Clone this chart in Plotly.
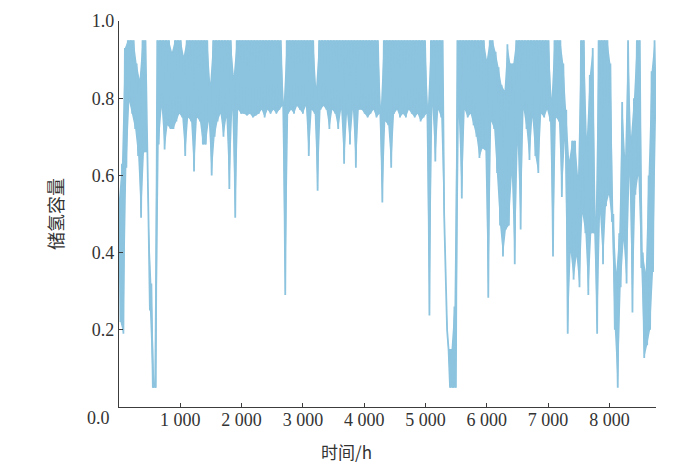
import plotly.graph_objects as go

# 储氢容量: one max / min pair per 48 h period
step_h = 48
soc_high = [
    0.54, 0.63, 0.93, 0.95, 0.95, 0.95, 0.89, 0.85, 0.95, 0.95,
    0.50, 0.32, 0.06, 0.95, 0.95, 0.95, 0.95, 0.95, 0.92, 0.95,
    0.95, 0.95, 0.91, 0.95, 0.95, 0.95, 0.95, 0.95, 0.95, 0.95,
    0.95, 0.84, 0.95, 0.95, 0.95, 0.95, 0.95, 0.95, 0.95, 0.86,
    0.95, 0.95, 0.95, 0.95, 0.95, 0.95, 0.95, 0.95, 0.95, 0.95,
    0.95, 0.95, 0.95, 0.95, 0.95, 0.95, 0.79, 0.95, 0.95, 0.95,
    0.95, 0.95, 0.95, 0.95, 0.95, 0.95, 0.95, 0.83, 0.95, 0.95,
    0.95, 0.95, 0.95, 0.95, 0.95, 0.95, 0.95, 0.95, 0.95, 0.95,
    0.95, 0.95, 0.95, 0.95, 0.95, 0.95, 0.95, 0.95, 0.95, 0.78,
    0.95, 0.95, 0.95, 0.95, 0.95, 0.95, 0.95, 0.95, 0.95, 0.95,
    0.95, 0.95, 0.95, 0.95, 0.95, 0.78, 0.95, 0.95, 0.95, 0.95,
    0.95, 0.32, 0.15, 0.15, 0.26, 0.95, 0.95, 0.95, 0.95, 0.95,
    0.95, 0.95, 0.95, 0.95, 0.95, 0.90, 0.95, 0.95, 0.92, 0.88,
    0.835, 0.82, 0.94, 0.89, 0.89, 0.95, 0.95, 0.95, 0.95, 0.95,
    0.95, 0.95, 0.95, 0.95, 0.95, 0.95, 0.95, 0.80, 0.95, 0.95,
    0.95, 0.89, 0.77, 0.64, 0.69, 0.69, 0.60, 0.95, 0.95, 0.70,
    0.86, 0.93, 0.49, 0.95, 0.95, 0.95, 0.95, 0.89, 0.50, 0.35,
    0.45, 0.79, 0.65, 0.95, 0.70, 0.80, 0.95, 0.95, 0.40, 0.35,
    0.60, 0.87, 0.95,
]
soc_low = [
    0.22, 0.19, 0.62, 0.79, 0.76, 0.72, 0.65, 0.49, 0.66, 0.66,
    0.25, 0.05, 0.05, 0.68, 0.775, 0.667, 0.73, 0.72, 0.72, 0.74,
    0.76, 0.75, 0.65, 0.75, 0.74, 0.61, 0.75, 0.74, 0.68, 0.68,
    0.74, 0.60, 0.70, 0.74, 0.76, 0.70, 0.75, 0.565, 0.77, 0.49,
    0.77, 0.76, 0.76, 0.755, 0.76, 0.75, 0.755, 0.76, 0.77, 0.75,
    0.77, 0.76, 0.77, 0.76, 0.77, 0.78, 0.29, 0.76, 0.77, 0.76,
    0.78, 0.77, 0.76, 0.78, 0.65, 0.77, 0.76, 0.56, 0.77, 0.78,
    0.77, 0.72, 0.77, 0.76, 0.72, 0.77, 0.63, 0.76, 0.68, 0.77,
    0.62, 0.77, 0.77, 0.76, 0.75, 0.76, 0.77, 0.75, 0.76, 0.53,
    0.74, 0.73, 0.62, 0.76, 0.77, 0.75, 0.76, 0.75, 0.77, 0.76,
    0.75, 0.76, 0.74, 0.75, 0.76, 0.237, 0.78, 0.636, 0.77, 0.75,
    0.50, 0.20, 0.05, 0.05, 0.05, 0.75, 0.54, 0.77, 0.75, 0.76,
    0.73, 0.70, 0.645, 0.67, 0.665, 0.283, 0.74, 0.72, 0.606, 0.47,
    0.39, 0.46, 0.47, 0.60, 0.37, 0.68, 0.46, 0.77, 0.72, 0.64,
    0.75, 0.65, 0.606, 0.76, 0.75, 0.77, 0.74, 0.39, 0.75, 0.74,
    0.544, 0.69, 0.19, 0.40, 0.33, 0.39, 0.31, 0.50, 0.45, 0.29,
    0.45, 0.45, 0.19, 0.50, 0.37, 0.52, 0.55, 0.48, 0.20, 0.05,
    0.31, 0.43, 0.32, 0.60, 0.245, 0.55, 0.60, 0.36, 0.127, 0.16,
    0.20, 0.35, 0.75,
]

x_ticks = [1000, 2000, 3000, 4000, 5000, 6000, 7000, 8000]
x_tick_text = ["1 000", "2 000", "3 000", "4 000", "5 000", "6 000", "7 000", "8 000"]
y_ticks = [0.2, 0.4, 0.6, 0.8, 1.0]
y_tick_text = ["0.2", "0.4", "0.6", "0.8", "1.0"]

# max at the start of each period, min half way through
t_high = [i * step_h for i in range(len(soc_high))]
t_low = [i * step_h + step_h // 2 for i in range(len(soc_low))]

hours = []
soc = []
for th, hi, tl, lo in zip(t_high, soc_high, t_low, soc_low):
    hours += [th, tl]
    soc += [hi, lo]

blue = "#8cc3de"
serif = "Liberation Serif"
axis_col = "#3c3c3c"

fig = go.Figure()
# solid band between the daily max and min
fig.add_trace(go.Scatter(x=t_high + t_low[::-1], y=soc_high + soc_low[::-1],
                         mode="lines", fill="toself", fillcolor=blue,
                         line=dict(width=0), hoverinfo="skip", showlegend=False))
fig.add_trace(go.Scatter(x=hours, y=soc, mode="lines",
                         line=dict(color=blue, width=1.8),
                         showlegend=False))

fig.update_xaxes(range=[0, 8760], showline=True, linecolor=axis_col, linewidth=1.3,
                 ticks="inside", ticklen=4, tickcolor=axis_col, tickwidth=1,
                 tickvals=x_ticks, ticktext=x_tick_text, ticklabelstandoff=-4,
                 tickfont=dict(family=serif, size=18, color="#333"),
                 showgrid=False, zeroline=False)
fig.update_yaxes(range=[0, 1.0], showline=True, linecolor=axis_col, linewidth=1.3,
                 ticks="inside", ticklen=4, tickcolor=axis_col, tickwidth=1,
                 tickvals=y_ticks, ticktext=y_tick_text,
                 tickfont=dict(family=serif, size=18, color="#333"),
                 showgrid=False, zeroline=False)

fig.add_annotation(text="0.0", xref="paper", yref="paper", x=-0.013, y=-0.028,
                   xanchor="right", yanchor="middle", showarrow=False,
                   font=dict(family=serif, size=18, color="#333"))
fig.add_annotation(text="时间/h", xref="paper", yref="paper", x=0.423, y=-0.114,
                   xanchor="center", yanchor="middle", showarrow=False,
                   font=dict(family="Noto Sans CJK SC", size=17, color="#333"))
fig.add_annotation(text="储氢容量", xref="paper", yref="paper", x=-0.119, y=0.5,
                   xanchor="center", yanchor="middle", showarrow=False, textangle=-90,
                   font=dict(family="Noto Sans CJK SC", size=18, color="#333"))

fig.update_layout(width=700, height=469,
                  margin=dict(l=119, r=44, t=11, b=62),
                  paper_bgcolor="white", plot_bgcolor="white")

fig.write_html("out.html", config={"displayModeBar": False},
               post_script="document.body.style.margin = '0';")
